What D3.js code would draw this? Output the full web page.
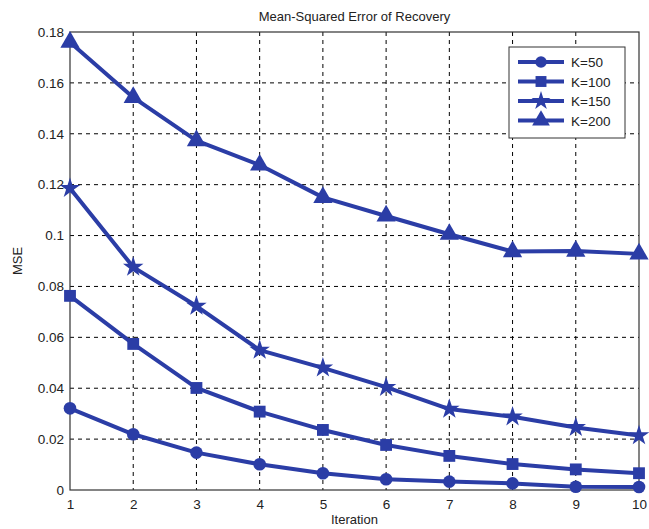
<!DOCTYPE html>
<html>
<head>
<meta charset="utf-8">
<script src="https://cdn.jsdelivr.net/npm/d3@7"></script>
<style>
body { margin: 0; background: #fff; }
text { font-family: "Liberation Sans", Arial, sans-serif; fill: #222; }
</style>
</head>
<body>
<div id="chart"></div>
<script>
// chart data
var iterations = [1, 2, 3, 4, 5, 6, 7, 8, 9, 10];
var seriesNames = ["K=50", "K=100", "K=150", "K=200"];
var k50 = [0.0321, 0.0219, 0.0147, 0.0101, 0.0066, 0.0042, 0.0033, 0.0026, 0.0013, 0.0012];
var k100 = [0.0763, 0.0574, 0.0401, 0.0308, 0.0236, 0.0177, 0.0134, 0.0102, 0.0081, 0.0066];
var k150 = [0.1186, 0.0876, 0.0723, 0.0550, 0.0480, 0.0404, 0.0318, 0.0288, 0.0246, 0.0214];
var k200 = [0.1760, 0.1543, 0.1373, 0.1277, 0.1150, 0.1077, 0.1005, 0.0937, 0.0939, 0.0928];
var yTicks = [0, 0.02, 0.04, 0.06, 0.08, 0.1, 0.12, 0.14, 0.16, 0.18];

var svgWidth = 649, svgHeight = 529;
var plotLeft = 70, plotRight = 639, plotTop = 32, plotBottom = 490;
var blue = "#2b3da6";

var svg = d3.select("#chart").append("svg").attr("width", svgWidth).attr("height", svgHeight);

var x = d3.scaleLinear().domain([1, 10]).range([plotLeft, plotRight]);
var y = d3.scaleLinear().domain([0, 0.18]).range([plotBottom, plotTop]);

// grid
svg.append("g").selectAll("line").data(iterations.slice(1, -1)).enter().append("line")
	.attr("x1", d => x(d)).attr("x2", d => x(d))
	.attr("y1", plotTop).attr("y2", plotBottom)
	.attr("stroke", "#000").attr("stroke-dasharray", "4,4").attr("stroke-width", 1);
svg.append("g").selectAll("line").data(yTicks.slice(1, -1)).enter().append("line")
	.attr("x1", plotLeft).attr("x2", plotRight)
	.attr("y1", d => y(d)).attr("y2", d => y(d))
	.attr("stroke", "#000").attr("stroke-dasharray", "4,4").attr("stroke-width", 1);

// box
svg.append("rect").attr("x", plotLeft).attr("y", plotTop).attr("width", plotRight - plotLeft).attr("height", plotBottom - plotTop)
	.attr("fill", "none").attr("stroke", "#333").attr("stroke-width", 1.2);

// axes
var xAxis = svg.append("g").attr("transform", "translate(0," + plotBottom + ")")
	.call(d3.axisBottom(x).tickValues(iterations).tickFormat(d3.format("d")).tickSize(0).tickPadding(9));
var yAxis = svg.append("g").attr("transform", "translate(" + plotLeft + ",0)")
	.call(d3.axisLeft(y).tickValues(yTicks).tickFormat(d => d === 0 ? "0" : String(+d.toFixed(2))).tickSize(0).tickPadding(6));
[xAxis, yAxis].forEach(function(a) {
	a.select(".domain").remove();
	a.selectAll("text").style("font-size", "13.5px").style("font-family", "Liberation Sans, Arial, sans-serif").attr("fill", "#222");
});

var allSeries = [k50, k100, k150, k200];
var symbols = [d3.symbolCircle, d3.symbolSquare, d3.symbolStar, d3.symbolTriangle];
var sizes = [125, 140, 130, 160];

var line = d3.line().x((d, i) => x(iterations[i])).y(d => y(d));

allSeries.forEach(function(vals, s) {
	svg.append("path").datum(vals).attr("d", line)
		.attr("fill", "none").attr("stroke", blue).attr("stroke-width", 4).attr("stroke-linejoin", "round");
	svg.append("g").selectAll("path").data(vals).enter().append("path")
		.attr("transform", (d, i) => "translate(" + x(iterations[i]) + "," + y(d) + ")")
		.attr("d", d3.symbol().type(symbols[s]).size(sizes[s]))
		.attr("fill", blue);
});

// title and labels
svg.append("text").attr("x", (plotLeft + plotRight) / 2).attr("y", 21).attr("text-anchor", "middle")
	.style("font-size", "13px").text("Mean-Squared Error of Recovery");
svg.append("text").attr("x", (plotLeft + plotRight) / 2).attr("y", 524).attr("text-anchor", "middle")
	.style("font-size", "13px").text("Iteration");
svg.append("text").attr("transform", "translate(22," + ((plotTop + plotBottom) / 2) + ") rotate(-90)")
	.attr("text-anchor", "middle").style("font-size", "13px").text("MSE");

// legend
var lg = svg.append("g").attr("transform", "translate(509,47)");
lg.append("rect").attr("width", 116).attr("height", 91).attr("fill", "#fff").attr("stroke", "#333").attr("stroke-width", 1);
seriesNames.forEach(function(name, s) {
	var ly = 15 + s * 19.5;
	lg.append("line").attr("x1", 9).attr("x2", 55).attr("y1", ly).attr("y2", ly)
		.attr("stroke", blue).attr("stroke-width", 4);
	lg.append("path").attr("transform", "translate(32," + ly + ")")
		.attr("d", d3.symbol().type(symbols[s]).size(sizes[s] * 0.85)).attr("fill", blue);
	lg.append("text").attr("x", 62).attr("y", ly + 5).style("font-size", "13.5px").text(name);
});
</script>
</body>
</html>
